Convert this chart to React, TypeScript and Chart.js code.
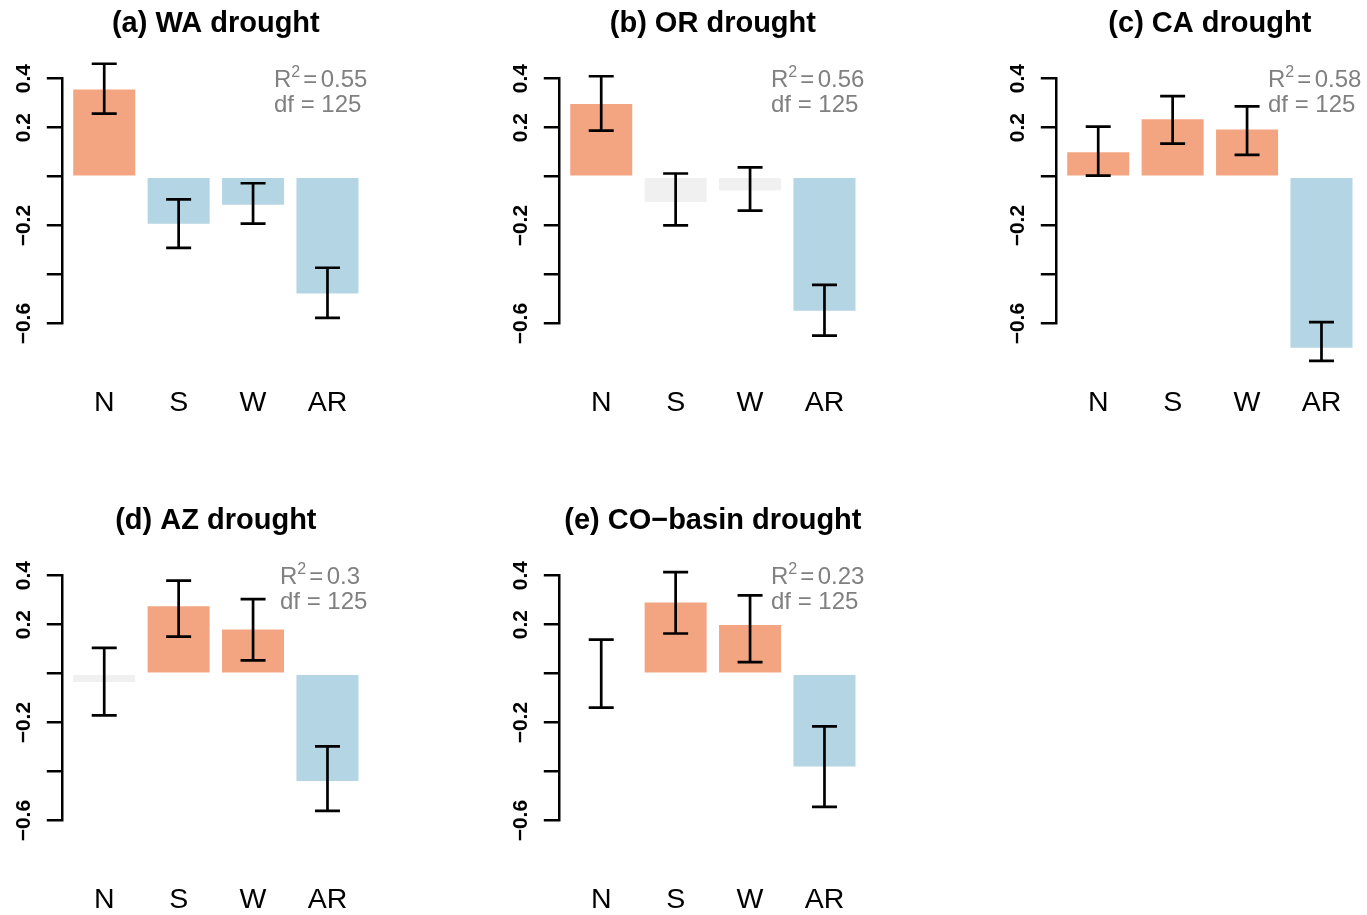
import React, { useEffect, useRef } from 'react';
import { Chart, registerables } from 'chart.js';

Chart.register(...registerables);

// ---------------- data ----------------
const CATEGORIES = ['N', 'S', 'W', 'AR'];

const TITLES = [
  '(a) WA drought',
  '(b) OR drought',
  '(c) CA drought',
  '(d) AZ drought',
  '(e) CO\u2212basin drought',
];

const R2_VALUES = [0.55, 0.56, 0.58, 0.3, 0.23];
const DF_VALUES = [125, 125, 125, 125, 125];

// estimates and error-bar limits (N, S, W, AR)
const EST_WA = [0.356, -0.192, -0.115, -0.477];
const LO_WA = [0.257, -0.291, -0.192, -0.577];
const HI_WA = [0.461, -0.093, -0.027, -0.372];

const EST_OR = [0.297, -0.103, -0.057, -0.548];
const LO_OR = [0.188, -0.199, -0.139, -0.649];
const HI_OR = [0.41, 0.013, 0.038, -0.442];

const EST_CA = [0.1, 0.234, 0.193, -0.699];
const LO_CA = [0.004, 0.135, 0.089, -0.752];
const HI_CA = [0.204, 0.329, 0.287, -0.594];

const EST_AZ = [-0.034, 0.275, 0.18, -0.438];
const LO_AZ = [-0.17, 0.151, 0.054, -0.56];
const HI_AZ = [0.105, 0.38, 0.304, -0.297];

const EST_CO = [-0.005, 0.291, 0.199, -0.379];
const LO_CO = [-0.139, 0.164, 0.047, -0.544];
const HI_CO = [0.139, 0.415, 0.32, -0.215];

const ESTIMATES = [EST_WA, EST_OR, EST_CA, EST_AZ, EST_CO];
const LOWERS = [LO_WA, LO_OR, LO_CA, LO_AZ, LO_CO];
const UPPERS = [HI_WA, HI_OR, HI_CA, HI_AZ, HI_CO];

const Y_TICKS = [-0.6, -0.4, -0.2, 0, 0.2, 0.4];
const Y_TICK_LABELS = [0.4, 0.2, -0.2, -0.6];

// ---------------- styling ----------------
const FONT = '"Liberation Sans", Arial, Helvetica, sans-serif';
const COL_POS = '#F3A582';
const COL_NEG = '#B4D5E3';
const COL_NS = '#F0F0F0';
const TEXT_GRAY = '#808080';

const PANEL = 497;
const CAP = 12.5;

// R barplot geometry (width 1, space 0.2, 4% axis extension)
const BAR_SPACE = 0.2;
const XPOS = CATEGORIES.map((_, i) => BAR_SPACE + 0.5 + i * (1 + BAR_SPACE));
const X_LO = BAR_SPACE;
const X_HI = CATEGORIES.length * (1 + BAR_SPACE);
const X_EXT = (X_HI - X_LO) * 0.04;

const fmt = (v: number) => (v < 0 ? '\u2212' : '') + Math.abs(v).toFixed(1);

function makeDecor(idx: number) {
  return {
    id: 'decor' + idx,
    afterDatasetsDraw(chart: any) {
      const { ctx, scales } = chart;
      const x = scales.x;
      const y = scales.y;
      const lo = LOWERS[idx];
      const hi = UPPERS[idx];
      ctx.save();
      ctx.strokeStyle = '#000';
      ctx.lineWidth = 2.7;
      ctx.lineCap = 'butt';
      lo.forEach((l: number, i: number) => {
        const px = x.getPixelForValue(XPOS[i]);
        const y1 = y.getPixelForValue(l);
        const y2 = y.getPixelForValue(hi[i]);
        ctx.beginPath();
        ctx.moveTo(px, y1);
        ctx.lineTo(px, y2);
        ctx.moveTo(px - CAP, y1);
        ctx.lineTo(px + CAP, y1);
        ctx.moveTo(px - CAP, y2);
        ctx.lineTo(px + CAP, y2);
        ctx.stroke();
      });
      ctx.restore();
    },
    afterDraw(chart: any) {
      const { ctx, chartArea, scales } = chart;
      const y = scales.y;
      ctx.save();
      // title
      ctx.fillStyle = '#000';
      ctx.font = `bold 29px ${FONT}`;
      ctx.textAlign = 'center';
      ctx.textBaseline = 'alphabetic';
      ctx.fillText(TITLES[idx], (chartArea.left + chartArea.right) / 2, chartArea.top - 47.2);

      // rotated y tick labels
      ctx.font = `bold 21px ${FONT}`;
      Y_TICK_LABELS.forEach((v) => {
        const py = y.getPixelForValue(v);
        ctx.save();
        ctx.translate(chartArea.left - 32.3, py);
        ctx.rotate(-Math.PI / 2);
        ctx.textAlign = 'center';
        ctx.textBaseline = 'alphabetic';
        ctx.fillText(fmt(v), 0, 0);
        ctx.restore();
      });

      // R^2 / df annotation
      ctx.fillStyle = TEXT_GRAY;
      ctx.textAlign = 'left';
      const big = `24px ${FONT}`;
      const small = `16px ${FONT}`;
      ctx.font = big;
      const wR = ctx.measureText('R').width;
      const wEq = ctx.measureText('=').width;
      const valTxt = String(R2_VALUES[idx]);
      const wVal = ctx.measureText(valTxt).width;
      const dfTxt = `df = ${DF_VALUES[idx]}`;
      const wDf = ctx.measureText(dfTxt).width;
      ctx.font = small;
      const w2 = ctx.measureText('2').width;
      const eqX = wR + w2 + 3;
      const valX = eqX + wEq + 3.5;
      const wR2 = valX + wVal;
      const left = chartArea.right - 2.5 - Math.max(wR2, wDf);
      const b1 = chartArea.top + 8.7;
      const b2 = chartArea.top + 33;
      ctx.font = big;
      ctx.fillText('R', left, b1);
      ctx.fillText('=', left + eqX, b1);
      ctx.fillText(valTxt, left + valX, b1);
      ctx.fillText(dfTxt, left, b2);
      ctx.font = small;
      ctx.fillText('2', left + wR, b1 - 10.5);
      ctx.restore();
    },
  };
}

function Panel({ idx, left, top }: { idx: number; left: number; top: number }) {
  const ref = useRef<HTMLCanvasElement | null>(null);
  useEffect(() => {
    if (!ref.current) return;
    const est = ESTIMATES[idx];
    const lo = LOWERS[idx];
    const hi = UPPERS[idx];
    const colors = est.map((_, i) => (lo[i] > 0 ? COL_POS : hi[i] < 0 ? COL_NEG : COL_NS));
    const chart = new Chart(ref.current, {
      type: 'bar',
      data: {
        datasets: [
          {
            data: est.map((v, i) => ({ x: XPOS[i], y: v })),
            backgroundColor: colors,
            borderWidth: 0,
            barPercentage: 1 / (1 + BAR_SPACE),
            categoryPercentage: 1,
            clip: false,
          } as any,
        ],
      },
      options: {
        responsive: false,
        animation: false,
        devicePixelRatio: 1,
        layout: { padding: { left: 46.8, right: 127.1, top: 78.7, bottom: 13.6 } },
        plugins: {
          legend: { display: false },
          tooltip: { enabled: false },
          title: { display: false },
        },
        scales: {
          x: {
            type: 'linear',
            offset: false,
            min: X_LO - X_EXT,
            max: X_HI + X_EXT,
            afterBuildTicks: (s: any) => {
              s.ticks = XPOS.map((v) => ({ value: v }));
            },
            ticks: {
              callback: (_v: any, i: number) => CATEGORIES[i],
              font: { family: FONT, size: 28.5 },
              color: '#000',
              padding: 62.8,
              autoSkip: false,
              maxRotation: 0,
              minRotation: 0,
            },
            grid: { display: false, drawTicks: false, offset: false },
            border: { display: false },
          },
          y: {
            type: 'linear',
            min: -0.6,
            max: 0.4,
            afterBuildTicks: (s: any) => {
              s.ticks = Y_TICKS.map((v) => ({ value: v }));
            },
            ticks: { display: false },
            grid: {
              drawOnChartArea: false,
              drawTicks: true,
              tickLength: 15,
              color: '#000',
              lineWidth: 2.5,
            },
            border: { display: true, color: '#000', width: 2.5 },
          },
        } as any,
      },
      plugins: [makeDecor(idx)],
    });
    return () => chart.destroy();
  }, [idx]);
  return (
    <canvas
      ref={ref}
      width={PANEL}
      height={PANEL}
      style={{ position: 'absolute', left, top, display: 'block' }}
    />
  );
}

export default function App() {
  return (
    <div
      style={{
        position: 'absolute',
        left: 0,
        top: 0,
        width: 1367,
        height: 915,
        overflow: 'hidden',
        background: '#fff',
      }}
    >
      {TITLES.map((_, i) => (
        <Panel key={i} idx={i} left={(i % 3) * PANEL} top={Math.floor(i / 3) * PANEL} />
      ))}
    </div>
  );
}
